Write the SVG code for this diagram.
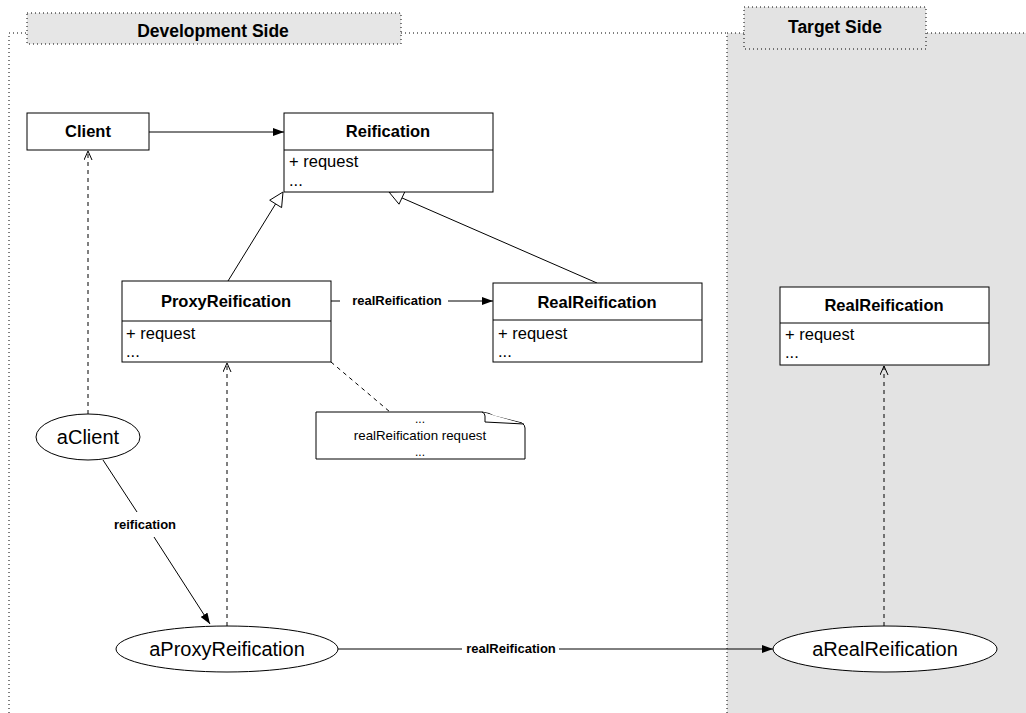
<svg xmlns="http://www.w3.org/2000/svg" width="1026" height="713" viewBox="0 0 1026 713">
<style>
.frame{fill:none;stroke:#000;stroke-width:1;stroke-dasharray:1,3}
.box{fill:#fff;stroke:#000;stroke-width:1}
.t{font-family:"Liberation Sans",Arial,sans-serif;fill:#000}
.hdr{font-size:17.5px;font-weight:bold;text-anchor:middle}
.b14{font-size:16.5px;font-weight:bold;text-anchor:middle}
.r14{font-size:16.5px}
.lbl{font-size:13px;font-weight:bold;text-anchor:middle}
.ell{font-size:20px;text-anchor:middle}
.ln{fill:none;stroke:#000;stroke-width:1}
.dash{fill:none;stroke:#000;stroke-width:1;stroke-dasharray:4,4}
.tri{fill:#fff;stroke:#000;stroke-width:1}
</style>
<defs>
<marker id="fill" markerWidth="12" markerHeight="8" refX="11" refY="4" orient="auto" markerUnits="userSpaceOnUse"><path d="M0,0 L11,4 L0,8 Z" fill="#000"/></marker>
<marker id="open" markerWidth="10" markerHeight="10" refX="9" refY="4" orient="auto" markerUnits="userSpaceOnUse"><path d="M0,0 L9,4 L0,8" fill="none" stroke="#000"/></marker>
</defs>
<g id="target-side">
<rect x="727" y="33" width="310" height="700" fill="#e3e3e3"/>
<path class="frame" d="M727,713 L727,33 L1030,33"/>
<rect x="744" y="7" width="182" height="42" fill="#e3e3e3" stroke="#000" stroke-dasharray="1,3"/>
<text class="t hdr" x="835" y="33">Target Side</text>
</g>
<g id="development-side">
<path class="frame" d="M9,713 L9,33 L727,33"/>
<rect x="27" y="13" width="374" height="31" fill="#e6e6e6" stroke="#000" stroke-dasharray="1,3"/>
<text class="t hdr" x="213" y="37">Development Side</text>
</g>
<g id="connectors">
<line class="ln" x1="149" y1="132" x2="284" y2="132" marker-end="url(#fill)"/>
<line class="ln" x1="228" y1="281" x2="275.6" y2="203.9"/>
<polygon class="tri" points="283,192 269.7,200.2 281.6,207.6"/>
<line class="ln" x1="597" y1="283" x2="401.7" y2="197.8"/>
<polygon class="tri" points="389,192 405,191.4 399,204.2"/>
<line class="ln" x1="331" y1="301" x2="340" y2="301"/>
<line class="ln" x1="448" y1="301" x2="493" y2="301" marker-end="url(#fill)"/>
<text class="t lbl" x="397" y="305">realReification</text>
<line class="dash" x1="331" y1="362" x2="390" y2="412"/>
<line class="dash" x1="88" y1="414" x2="88" y2="151" marker-end="url(#open)"/>
<line class="dash" x1="227" y1="626" x2="227" y2="363" marker-end="url(#open)"/>
<line class="dash" x1="884" y1="626" x2="884" y2="366" marker-end="url(#open)"/>
<line class="ln" x1="103" y1="460" x2="137" y2="512"/>
<line class="ln" x1="154" y1="537" x2="210" y2="624" marker-end="url(#fill)"/>
<text class="t lbl" x="145" y="529">reification</text>
<line class="ln" x1="338" y1="649" x2="462" y2="649"/>
<line class="ln" x1="559" y1="649" x2="773" y2="649" marker-end="url(#fill)"/>
<text class="t lbl" x="511" y="653">realReification</text>
</g>
<g id="client">
<rect class="box" x="27" y="113" width="122" height="37"/>
<text class="t b14" x="88" y="137">Client</text>
</g>
<g id="reification">
<rect class="box" x="284" y="113" width="209" height="79"/>
<line class="ln" x1="284" y1="150" x2="493" y2="150"/>
<text class="t b14" x="388" y="137">Reification</text>
<text class="t r14" x="289" y="167">+ request</text>
<text class="t r14" x="289" y="186">...</text>
</g>
<g id="proxy-reification">
<rect class="box" x="122" y="281" width="209" height="81"/>
<line class="ln" x1="122" y1="321" x2="331" y2="321"/>
<text class="t b14" x="226" y="307">ProxyReification</text>
<text class="t r14" x="126" y="339">+ request</text>
<text class="t r14" x="126" y="357">...</text>
</g>
<g id="real-reification-dev">
<rect class="box" x="493" y="283" width="209" height="79"/>
<line class="ln" x1="493" y1="320" x2="702" y2="320"/>
<text class="t b14" x="597" y="308">RealReification</text>
<text class="t r14" x="498" y="339">+ request</text>
<text class="t r14" x="498" y="357">...</text>
</g>
<g id="real-reification-target">
<rect class="box" x="780" y="287" width="209" height="78"/>
<line class="ln" x1="780" y1="323" x2="989" y2="323"/>
<text class="t b14" x="884" y="311">RealReification</text>
<text class="t r14" x="785" y="340">+ request</text>
<text class="t r14" x="785" y="358">...</text>
</g>
<g id="note">
<path class="box" d="M316,412 L482,412 Q490,413 494,416 L522,423 Q525,425 525,428 L525,459 L316,459 Z"/>
<path d="M482,412 Q485,413 485,416 L485,422 L524,424" fill="#fff" stroke="#000" stroke-width="1"/>
<text class="t" font-size="12" text-anchor="middle" x="420" y="423">...</text>
<text class="t" font-size="13.3" text-anchor="middle" x="420" y="440">realReification request</text>
<text class="t" font-size="12" text-anchor="middle" x="420" y="456">...</text>
</g>
<g id="aClient">
<ellipse class="box" cx="88" cy="437" rx="52" ry="23"/>
<text class="t ell" x="88" y="444">aClient</text>
</g>
<g id="aProxyReification">
<ellipse class="box" cx="227" cy="649" rx="111" ry="23"/>
<text class="t ell" x="227" y="656">aProxyReification</text>
</g>
<g id="aRealReification">
<ellipse class="box" cx="885" cy="649" rx="112" ry="23"/>
<text class="t ell" x="885" y="656">aRealReification</text>
</g>
</svg>
